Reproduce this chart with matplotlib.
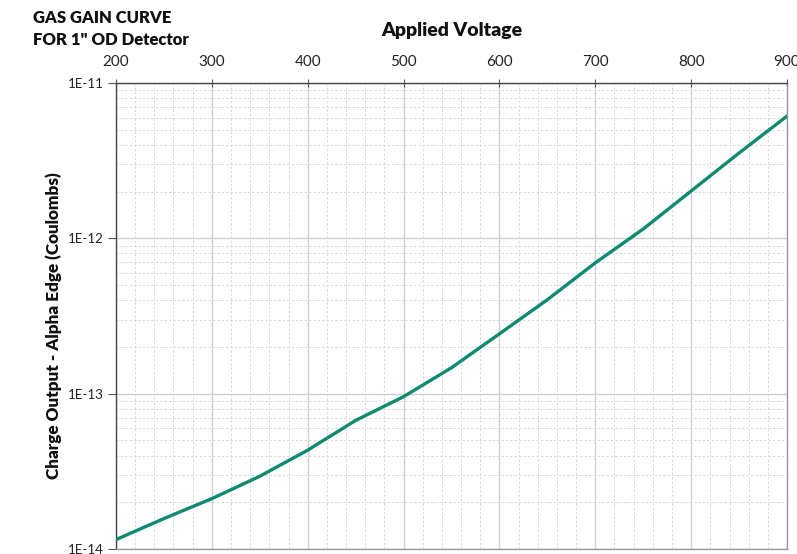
import matplotlib
matplotlib.use("Agg")
import matplotlib.pyplot as plt
from matplotlib.ticker import FixedLocator, LogLocator, NullFormatter

voltage = [200, 250, 300, 350, 400, 450, 500, 550, 600, 650, 700, 750, 800, 850, 900]
charge = [1.15e-14, 1.57e-14, 2.11e-14, 2.94e-14, 4.33e-14, 6.73e-14, 9.57e-14,
          1.47e-13, 2.43e-13, 4.03e-13, 6.96e-13, 1.15e-12, 2.02e-12, 3.55e-12, 6.13e-12]
x_ticks = [200, 300, 400, 500, 600, 700, 800, 900]
y_ticks = [1e-14, 1e-13, 1e-12, 1e-11]
y_tick_labels = ["1E-14", "1E-13", "1E-12", "1E-11"]

plt.rcParams['font.family'] = ['Lato', 'DejaVu Sans']

fig = plt.figure(figsize=(7.97, 5.54), dpi=100)
ax = fig.add_axes([0.1455, 0.009, 0.842, 0.841])

ax.plot(voltage, charge, color="#0f8a72", lw=2.4, solid_capstyle="round", zorder=5)

ax.set_yscale("log")
ax.set_xlim(200, 900)
ax.set_ylim(1e-14, 1e-11)

ax.xaxis.tick_top()
ax.xaxis.set_label_position("top")
ax.set_xticks(x_ticks)
ax.set_xticklabels([str(v) for v in x_ticks])
ax.xaxis.set_minor_locator(FixedLocator(list(range(200, 901, 20))))
ax.set_yticks(y_ticks)
ax.set_yticklabels(y_tick_labels)
ax.yaxis.set_minor_locator(LogLocator(base=10, subs=[2, 3, 4, 5, 6, 7, 8, 9]))
ax.yaxis.set_minor_formatter(NullFormatter())

ax.tick_params(axis="x", which="major", length=6, width=0.8, color="#555555",
               labelsize=11, labelcolor="#222222", pad=7, direction="inout")
ax.tick_params(axis="y", which="major", length=6, width=0.8, color="#555555",
               labelsize=9.5, labelcolor="#222222", pad=3)
ax.tick_params(which="minor", length=0)

ax.grid(True, which="major", color="#cfcfcf", lw=1.0, ls="-")
ax.grid(True, which="minor", color="#d8d8d8", lw=0.7, ls=(0, (2.5, 2)))
ax.set_axisbelow(True)

for side in ["left", "top"]:
    ax.spines[side].set_color("#444444")
    ax.spines[side].set_linewidth(1.0)
for side in ["right", "bottom"]:
    ax.spines[side].set_color("#999999")
    ax.spines[side].set_linewidth(1.0)

ax.set_xlabel("Applied Voltage", fontsize=14, fontweight="heavy", color="#111111", labelpad=14)
ax.set_ylabel("Charge Output - Alpha Edge (Coulombs)", fontsize=12.3, fontweight="heavy",
              color="#111111")
ax.yaxis.set_label_coords(-0.081, 0.48)

fig.text(0.041, 0.968, "GAS GAIN CURVE", fontsize=12, fontweight="heavy", color="#111111",
         ha="left", va="center")
fig.text(0.041, 0.928, "FOR 1\" OD Detector", fontsize=12, fontweight="heavy", color="#111111",
         ha="left", va="center")

fig.savefig("out.png", dpi=100)
